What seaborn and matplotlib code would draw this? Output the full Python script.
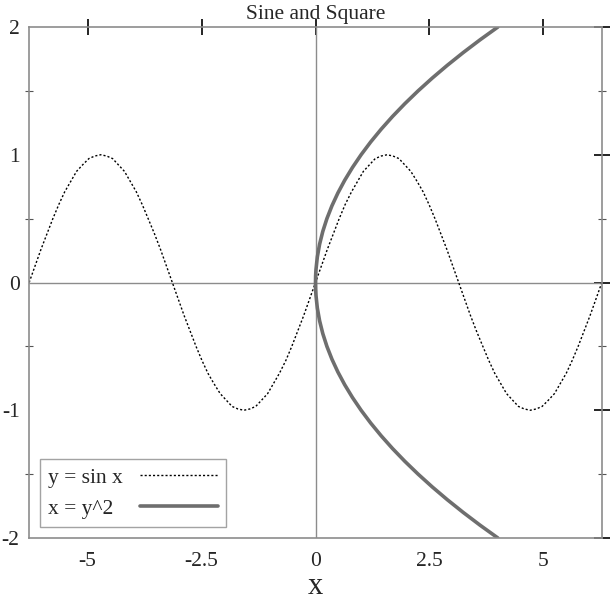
import matplotlib
matplotlib.use('Agg')
import matplotlib.pyplot as plt
import seaborn as sns
import pandas as pd
from matplotlib.ticker import MultipleLocator

# sine curve, every 7.5 degrees
sin_x = [-6.28, -6.15, -6.02, -5.89, -5.76, -5.63, -5.50, -5.37, -5.24, -5.11, -4.97, -4.84,
         -4.71, -4.58, -4.45, -4.32, -4.19, -4.06, -3.93, -3.80, -3.67, -3.53, -3.40, -3.27,
         -3.14, -3.01, -2.88, -2.75, -2.62, -2.49, -2.36, -2.23, -2.09, -1.96, -1.83, -1.70,
         -1.57, -1.44, -1.31, -1.18, -1.05, -0.92, -0.79, -0.65, -0.52, -0.39, -0.26, -0.13,
         0.0, 0.13, 0.26, 0.39, 0.52, 0.65, 0.79, 0.92, 1.05, 1.18, 1.31, 1.44,
         1.57, 1.70, 1.83, 1.96, 2.09, 2.23, 2.36, 2.49, 2.62, 2.75, 2.88, 3.01,
         3.14, 3.27, 3.40, 3.53, 3.67, 3.80, 3.93, 4.06, 4.19, 4.32, 4.45, 4.58,
         4.71, 4.84, 4.97, 5.11, 5.24, 5.37, 5.50, 5.63, 5.76, 5.89, 6.02, 6.15, 6.28]
sin_y = [0.0, 0.13, 0.26, 0.38, 0.5, 0.61, 0.71, 0.79, 0.87, 0.92, 0.97, 0.99,
         1.0, 0.99, 0.97, 0.92, 0.87, 0.79, 0.71, 0.61, 0.5, 0.38, 0.26, 0.13,
         0.0, -0.13, -0.26, -0.38, -0.5, -0.61, -0.71, -0.79, -0.87, -0.92, -0.97, -0.99,
         -1.0, -0.99, -0.97, -0.92, -0.87, -0.79, -0.71, -0.61, -0.5, -0.38, -0.26, -0.13,
         0.0, 0.13, 0.26, 0.38, 0.5, 0.61, 0.71, 0.79, 0.87, 0.92, 0.97, 0.99,
         1.0, 0.99, 0.97, 0.92, 0.87, 0.79, 0.71, 0.61, 0.5, 0.38, 0.26, 0.13,
         0.0, -0.13, -0.26, -0.38, -0.5, -0.61, -0.71, -0.79, -0.87, -0.92, -0.97, -0.99,
         -1.0, -0.99, -0.97, -0.92, -0.87, -0.79, -0.71, -0.61, -0.5, -0.38, -0.26, -0.13, 0.0]

# sideways parabola x = y^2
par_y = [-2.0, -1.9, -1.8, -1.7, -1.6, -1.5, -1.4, -1.3, -1.2, -1.1, -1.0,
         -0.9, -0.8, -0.7, -0.6, -0.5, -0.4, -0.3, -0.2, -0.1, -0.05, 0.0,
         0.05, 0.1, 0.2, 0.3, 0.4, 0.5, 0.6, 0.7, 0.8, 0.9,
         1.0, 1.1, 1.2, 1.3, 1.4, 1.5, 1.6, 1.7, 1.8, 1.9, 2.0]
par_x = [4.0, 3.61, 3.24, 2.89, 2.56, 2.25, 1.96, 1.69, 1.44, 1.21, 1.0,
         0.81, 0.64, 0.49, 0.36, 0.25, 0.16, 0.09, 0.04, 0.01, 0.0025, 0.0,
         0.0025, 0.01, 0.04, 0.09, 0.16, 0.25, 0.36, 0.49, 0.64, 0.81,
         1.0, 1.21, 1.44, 1.69, 1.96, 2.25, 2.56, 2.89, 3.24, 3.61, 4.0]

x_ticks = [-5, -2.5, 0, 2.5, 5]
x_labels = ['-5', '-2.5', '0', '2.5', '5']
y_ticks = [-2, -1, 0, 1, 2]
y_labels = ['-2', '-1', '0', '1', '2']

sns.set_style('white')
plt.rcParams['font.family'] = ['Liberation Serif', 'DejaVu Serif']

sine = pd.DataFrame({'x': sin_x, 'y': sin_y})
para = pd.DataFrame({'x': par_x, 'y': par_y})

fig = plt.figure(figsize=(6.11, 6.01), dpi=100)
ax = fig.add_axes([29 / 611, 1 - 538 / 601, 573 / 611, 511 / 601])

ax.axhline(0, color='#8c8c8c', lw=1, zorder=1)
ax.axvline(0, color='#8c8c8c', lw=1, zorder=1)

sns.lineplot(data=sine, x='x', y='y', sort=False, estimator=None, ax=ax, color='black',
             lw=1, linestyle=(0, (1.5, 1.5)), label='y = sin x')
sns.lineplot(data=para, x='x', y='y', sort=False, estimator=None, ax=ax, color='#6e6e6e',
             lw=2.6, label='x = y^2')

ax.set_xlim(-6.2832, 6.2832)
ax.set_ylim(-2, 2)
ax.set_xticks(x_ticks)
ax.set_xticklabels(x_labels)
ax.set_yticks(y_ticks)
ax.set_yticklabels(y_labels)
ax.yaxis.set_minor_locator(MultipleLocator(0.5))

for s in ax.spines.values():
    s.set_color('#8c8c8c')
    s.set_linewidth(1.2)

ax.tick_params(which='major', direction='inout', length=11.5, width=1.2, color='black',
               top=True, right=True, labelsize=15.5)
ax.tick_params(axis='y', which='major', pad=1)
ax.tick_params(axis='x', which='major', pad=4)
ax.tick_params(which='minor', direction='inout', length=5.8, width=0.8, color='#555555',
               left=True, right=True)

ax.set_title('Sine and Square', fontsize=15.5, pad=6)
ax.set_xlabel('x', fontsize=22, labelpad=1)
ax.set_ylabel('')

leg = ax.legend(loc='lower left', markerfirst=False, fontsize=15.5, frameon=True,
                fancybox=False, handlelength=3.6, handletextpad=0.8,
                borderaxespad=0.5, borderpad=0.4, labelspacing=0.5)
leg.get_frame().set_edgecolor('#8c8c8c')
leg.get_frame().set_linewidth(1)

# left-align the labels but keep the line samples lined up on the right
fig.canvas.draw()
renderer = fig.canvas.get_renderer()
column = leg._legend_handle_box.get_children()[0]
rows = column.get_children()
widths = [t.get_window_extent(renderer).width for t in leg.get_texts()]
for row, w in zip(rows, widths):
    row.sep = row.sep + (max(widths) - w) * 72 / fig.dpi
column.align = 'left'

fig.savefig('out.png', dpi=100)
